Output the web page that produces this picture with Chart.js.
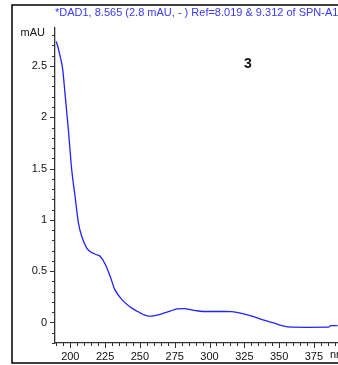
<!DOCTYPE html>
<html>
<head>
<meta charset="utf-8">
<script src="https://cdn.jsdelivr.net/npm/chart.js@4"></script>
<style>
  html, body { margin: 0; padding: 0; background: #fff; overflow: hidden; }
  #wrap { width: 338px; height: 365px; }
</style>
</head>
<body>
<div id="wrap"><canvas id="spectrum"></canvas></div>
<script>
// UV spectrum (nm vs mAU)
const wavelengths = [189.9, 191, 192.6, 194.5, 196.2, 198.6, 201, 203.4, 205.8, 208.2, 211.8, 215, 219, 221.4, 225, 228.6, 232, 238, 243, 248, 252, 256, 260, 264.5, 271.7, 276.6, 282, 287, 292, 298, 310, 316, 323, 330.5, 339, 346, 352, 359, 370, 385.5, 387, 392]
const absorbance = [2.74, 2.69, 2.6, 2.47, 2.23, 1.88, 1.49, 1.23, 0.97, 0.84, 0.725, 0.685, 0.66, 0.645, 0.57, 0.45, 0.32, 0.21, 0.15, 0.11, 0.08, 0.062, 0.065, 0.08, 0.11, 0.133, 0.135, 0.122, 0.112, 0.107, 0.107, 0.105, 0.088, 0.061, 0.022, -0.003, -0.03, -0.046, -0.047, -0.046, -0.03, -0.03]
const xTicks = [200, 225, 250, 275, 300, 325, 350, 375]
const yTicks = [0, 0.5, 1, 1.5, 2, 2.5]

const titleText = '*DAD1, 8.565 (2.8 mAU, - ) Ref=8.019 & 9.312 of SPN-A1.D'
const peakLabel = '3'

const font = 'Liberation Sans, Arial, sans-serif'

// frame, axis ticks (major + minor) and the loose texts
const decor = {
  id: 'decor',
  beforeDraw (chart) {
    const ctx = chart.ctx
    ctx.save()
    ctx.fillStyle = '#fff'
    ctx.fillRect(0, 0, chart.width, chart.height)
    ctx.strokeStyle = '#000'
    ctx.lineWidth = 1.5
    ctx.strokeRect(12, 5, 340, 358)
    ctx.restore()
  },
  afterDraw (chart) {
    const ctx = chart.ctx
    const x = chart.scales.x
    const y = chart.scales.y
    const area = chart.chartArea
    ctx.save()
    ctx.strokeStyle = '#333'
    ctx.lineWidth = 1
    ctx.beginPath()
    for (let i = -2; i <= 28; i++) {
      const v = i / 10
      const py = Math.round(y.getPixelForValue(v)) + 0.5
      const len = i % 5 === 0 ? 5 : 3
      ctx.moveTo(area.left, py)
      ctx.lineTo(area.left - len, py)
    }
    for (let v = 190; v <= 390; v += 5) {
      const px = Math.round(x.getPixelForValue(v)) + 0.5
      const len = v % 25 === 0 ? 5 : 3
      ctx.moveTo(px, area.bottom)
      ctx.lineTo(px, area.bottom + len)
    }
    ctx.stroke()

    ctx.fillStyle = '#3838ff'
    ctx.font = '11px ' + font
    ctx.textBaseline = 'middle'
    ctx.textAlign = 'left'
    ctx.fillText(titleText, 55, 13)

    ctx.fillStyle = '#111'
    ctx.textAlign = 'right'
    ctx.fillText('mAU', 45, 33)
    ctx.textAlign = 'left'
    ctx.fillText('nm', 330, 355)

    ctx.font = 'bold 14px ' + font
    ctx.textAlign = 'center'
    ctx.fillText(peakLabel, 248, 64)
    ctx.restore()
  }
}

// eslint-disable-next-line no-unused-vars
const spectrumChart = new Chart(document.getElementById('spectrum'), {
  type: 'scatter',
  data: {
    datasets: [{
      data: wavelengths.map((w, i) => ({ x: w, y: absorbance[i] })),
      showLine: true,
      borderColor: '#2222ff',
      borderWidth: 1.3,
      pointRadius: 0,
      cubicInterpolationMode: 'monotone'
    }]
  },
  options: {
    responsive: true,
    maintainAspectRatio: false,
    animation: false,
    layout: { padding: { top: 28, left: 0, right: 0, bottom: 0 } },
    plugins: { legend: { display: false }, tooltip: { enabled: false } },
    scales: {
      x: {
        type: 'linear',
        min: 189,
        max: 392.3,
        afterFit: (scale) => { scale.height = 22 },
        afterBuildTicks: (scale) => { scale.ticks = xTicks.map(v => ({ value: v })) },
        grid: { display: false, drawTicks: false },
        border: { color: '#333', width: 1.3 },
        ticks: {
          autoSkip: false,
          maxRotation: 0,
          padding: 7,
          color: '#111',
          font: { family: font, size: 11 },
          callback: (v) => String(v)
        }
      },
      y: {
        min: -0.2,
        max: 2.87,
        afterFit: (scale) => { scale.width = 55 },
        afterBuildTicks: (scale) => { scale.ticks = yTicks.map(v => ({ value: v })) },
        grid: { display: false, drawTicks: false },
        border: { color: '#333', width: 1.3 },
        ticks: {
          autoSkip: false,
          padding: 8,
          color: '#111',
          font: { family: font, size: 11 },
          callback: (v) => String(v)
        }
      }
    }
  },
  plugins: [decor]
})
</script>
</body>
</html>
